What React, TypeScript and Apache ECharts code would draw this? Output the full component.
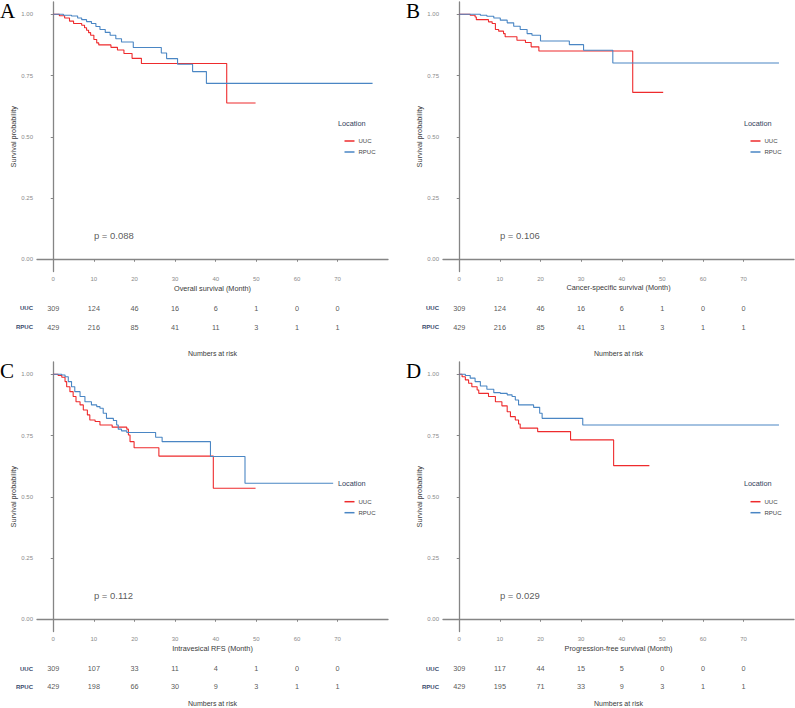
import React, { useEffect, useRef } from "react";
import * as echarts from "echarts";

// Kaplan–Meier curves: step times (months) and survival probability after each step
const xTicks = [0, 10, 20, 30, 40, 50, 60, 70];
const yTicks = [0, 0.25, 0.5, 0.75, 1];

// A – overall survival
const osUucTime = [0, 1.5, 2.8, 4.0, 5.0, 7.0, 7.7, 8.2, 8.7, 9.2, 10.0, 10.7, 11.2, 14.2, 15.8, 17.4, 19.4, 21.7, 42.7, 49.8];
const osUucSurv = [1, 0.994, 0.985, 0.972, 0.962, 0.955, 0.945, 0.935, 0.925, 0.914, 0.897, 0.883, 0.875, 0.865, 0.854, 0.84, 0.82, 0.799, 0.638, 0.638];
const osRpucTime = [0, 2.5, 4.5, 6.0, 7.0, 8.2, 9.4, 10.5, 11.5, 12.8, 14.0, 15.4, 16.8, 19.7, 26.6, 27.9, 30.6, 34.3, 37.7, 78.6];
const osRpucSurv = [1, 0.996, 0.993, 0.985, 0.978, 0.97, 0.962, 0.95, 0.938, 0.926, 0.914, 0.9, 0.887, 0.864, 0.842, 0.819, 0.796, 0.766, 0.718, 0.718];
const osRiskUuc = [309, 124, 46, 16, 6, 1, 0, 0];
const osRiskRpuc = [429, 216, 85, 41, 11, 3, 1, 1];

// B – cancer-specific survival
const cssUucTime = [0, 2.7, 3.9, 4.2, 7.2, 8.1, 8.9, 9.7, 10.9, 11.3, 14.2, 16.3, 17.7, 19.6, 42.7, 50.2];
const cssUucSurv = [1, 0.996, 0.989, 0.978, 0.969, 0.962, 0.938, 0.931, 0.921, 0.908, 0.894, 0.885, 0.867, 0.85, 0.681, 0.681];
const cssRpucTime = [0, 5.2, 6.8, 8.5, 10.1, 11.8, 13.4, 15.0, 16.7, 17.9, 20.0, 27.1, 30.6, 37.8, 78.7];
const cssRpucSurv = [1, 0.996, 0.992, 0.985, 0.976, 0.965, 0.951, 0.938, 0.921, 0.914, 0.891, 0.876, 0.853, 0.801, 0.801];
const cssRiskUuc = [309, 124, 46, 16, 6, 1, 0, 0];
const cssRiskRpuc = [429, 216, 85, 41, 11, 3, 1, 1];

// C – intravesical recurrence-free survival
const rfsUucTime = [0, 1.2, 2.1, 2.9, 3.3, 4.1, 4.9, 5.6, 6.6, 7.4, 8.4, 9.0, 10.3, 11.5, 14.5, 18.1, 18.5, 18.9, 19.9, 26.0, 39.4, 49.8];
const rfsUucSurv = [1, 0.995, 0.988, 0.97, 0.949, 0.929, 0.909, 0.888, 0.875, 0.854, 0.834, 0.813, 0.807, 0.793, 0.784, 0.776, 0.752, 0.725, 0.7, 0.666, 0.535, 0.535];
const rfsRpucTime = [0, 2.1, 2.9, 3.7, 4.5, 5.3, 6.6, 7.8, 9.4, 10.7, 11.5, 12.3, 13.1, 14.8, 15.6, 16.0, 16.8, 18.1, 25.2, 26.8, 38.7, 47.2, 68.9];
const rfsRpucSurv = [1, 0.997, 0.99, 0.97, 0.949, 0.929, 0.909, 0.888, 0.875, 0.868, 0.861, 0.841, 0.82, 0.811, 0.793, 0.776, 0.769, 0.762, 0.743, 0.725, 0.664, 0.555, 0.555];
const rfsRiskUuc = [309, 107, 33, 11, 4, 1, 0, 0];
const rfsRiskRpuc = [429, 198, 66, 30, 9, 3, 1, 1];

// D – progression-free survival
const pfsUucTime = [0, 0.7, 1.5, 2.3, 3.1, 4.4, 4.8, 7.2, 8.9, 10.5, 11.8, 12.6, 13.8, 14.6, 15.0, 19.3, 27.4, 38.0, 46.8];
const pfsUucSurv = [1, 0.99, 0.977, 0.963, 0.949, 0.936, 0.922, 0.909, 0.888, 0.871, 0.847, 0.827, 0.813, 0.797, 0.78, 0.766, 0.732, 0.627, 0.627];
const pfsRpucTime = [0, 1.5, 2.7, 3.9, 5.2, 6.8, 8.5, 10.1, 11.8, 13.0, 13.8, 14.6, 18.3, 19.8, 20.4, 30.4, 78.7];
const pfsRpucSurv = [1, 0.995, 0.984, 0.97, 0.952, 0.939, 0.925, 0.922, 0.916, 0.909, 0.895, 0.875, 0.865, 0.841, 0.82, 0.793, 0.793];
const pfsRiskUuc = [309, 117, 44, 15, 5, 0, 0, 0];
const pfsRiskRpuc = [429, 195, 71, 33, 9, 3, 1, 1];

const pValues = ["p = 0.088", "p = 0.106", "p = 0.112", "p = 0.029"];
const pValueAt = [10, 0.096];
const axisTitles = [
  "Overall survival (Month)",
  "Cancer-specific survival (Month)",
  "Intravesical RFS (Month)",
  "Progression-free survival (Month)",
];
const panelLetters = ["A", "B", "C", "D"];

const RED = "#EE2B2D";
const BLUE = "#4A86C4";
const AXIS = "#858585";
const FONT = "'Liberation Sans', Arial, sans-serif";

const curves = [
  [osUucTime, osUucSurv, osRpucTime, osRpucSurv, osRiskUuc, osRiskRpuc],
  [cssUucTime, cssUucSurv, cssRpucTime, cssRpucSurv, cssRiskUuc, cssRiskRpuc],
  [rfsUucTime, rfsUucSurv, rfsRpucTime, rfsRpucSurv, rfsRiskUuc, rfsRiskRpuc],
  [pfsUucTime, pfsUucSurv, pfsRpucTime, pfsRpucSurv, pfsRiskUuc, pfsRiskRpuc],
];

// layout of each panel (pixels)
const layout = [
  { left: 37, top: 2, riskTop: 298.8, riskH: 38, titleGap: 13.5, nrGap: 13, legendTop: 124 },
  { left: 443, top: 2, riskTop: 298.8, riskH: 38, titleGap: 12, nrGap: 13, legendTop: 124 },
  { left: 37, top: 362, riskTop: 659.6, riskH: 37.4, titleGap: 13, nrGap: 4.5, legendTop: 484.7 },
  { left: 443, top: 362, riskTop: 659.6, riskH: 37.4, titleGap: 13, nrGap: 4.5, legendTop: 484.7 },
];
const PLOT_W = 351;
const PLOT_H = 269.5;
const X_MIN = -4;
const X_MAX = 82.4;

const zip = (t: number[], s: number[]) => t.map((v, i) => [v, s[i]]);

function buildOption() {
  const grid: any[] = [];
  const xAxis: any[] = [];
  const yAxis: any[] = [];
  const series: any[] = [];
  const legend: any[] = [];
  const graphic: any[] = [];

  layout.forEach((L) => {
    grid.push({ left: L.left, top: L.top, width: PLOT_W, height: PLOT_H });
  });
  layout.forEach((L) => {
    grid.push({ left: L.left, top: L.riskTop, width: PLOT_W, height: L.riskH });
  });

  layout.forEach((L, i) => {
    xAxis.push({
      type: "value",
      gridIndex: i,
      min: X_MIN,
      max: X_MAX,
      splitLine: { show: false },
      axisLine: { lineStyle: { color: AXIS, width: 1.3 } },
      axisTick: { customValues: xTicks, length: 2.5, lineStyle: { color: AXIS } },
      axisLabel: { customValues: xTicks, fontSize: 6, color: "#8a8a8a", margin: 4, fontFamily: FONT },
      name: axisTitles[i],
      nameLocation: "middle",
      nameGap: L.titleGap,
      nameTextStyle: { fontSize: 7.3, color: "#3a3a3a", fontFamily: FONT },
    });
    yAxis.push({
      type: "value",
      gridIndex: i,
      min: -0.05,
      max: 1.05,
      splitLine: { show: false },
      axisLine: { show: true, lineStyle: { color: AXIS, width: 1.3 } },
      axisTick: { show: true, customValues: yTicks, length: 2.5, lineStyle: { color: AXIS } },
      axisLabel: {
        customValues: yTicks,
        fontSize: 6,
        color: "#8a8a8a",
        margin: 4,
        fontFamily: FONT,
        formatter: (v: number) => v.toFixed(2),
      },
      name: "Survival probability",
      nameLocation: "middle",
      nameRotate: 90,
      nameGap: 20.5,
      nameTextStyle: { fontSize: 7.3, color: "#3a3a3a", fontFamily: FONT },
    });
  });

  layout.forEach((L, i) => {
    xAxis.push({
      type: "value",
      gridIndex: 4 + i,
      min: X_MIN,
      max: X_MAX,
      axisLine: { show: false },
      axisTick: { show: false },
      axisLabel: { show: false },
      splitLine: { show: false },
      name: "Numbers at risk",
      nameLocation: "middle",
      nameGap: L.nrGap,
      nameTextStyle: { fontSize: 7, color: "#3a3a3a", fontFamily: FONT },
    });
    yAxis.push({
      type: "category",
      gridIndex: 4 + i,
      data: ["RPUC", "UUC"],
      axisLine: { show: false },
      axisTick: { show: false },
      splitLine: { show: false },
      axisLabel: { fontSize: 6, fontWeight: "bold", color: "#3a4a6c", margin: 4, fontFamily: FONT },
    });
  });

  curves.forEach((c, i) => {
    const [ut, us, rt, rs, riskU, riskR] = c;
    series.push({
      type: "line",
      name: "UUC",
      xAxisIndex: i,
      yAxisIndex: i,
      step: "end",
      symbol: "none",
      showSymbol: false,
      data: zip(ut, us),
      color: RED,
      lineStyle: { color: RED, width: 1.1 },
      itemStyle: { color: RED },
      z: 2,
    });
    series.push({
      type: "line",
      name: "RPUC",
      xAxisIndex: i,
      yAxisIndex: i,
      step: "end",
      symbol: "none",
      showSymbol: false,
      data: zip(rt, rs),
      color: BLUE,
      lineStyle: { color: BLUE, width: 1.1 },
      itemStyle: { color: BLUE },
      z: 3,
    });
    series.push({
      type: "scatter",
      name: "pvalue",
      xAxisIndex: i,
      yAxisIndex: i,
      symbolSize: 0,
      data: [pValueAt],
      label: {
        show: true,
        position: "right",
        distance: 0,
        formatter: () => pValues[i],
        fontSize: 9.5,
        color: "#2e2e2e",
        fontFamily: FONT,
      },
    });
    [riskR, riskU].forEach((row, r) => {
      series.push({
        type: "scatter",
        name: r === 0 ? "risk-RPUC" : "risk-UUC",
        xAxisIndex: 4 + i,
        yAxisIndex: 4 + i,
        symbolSize: 0,
        data: xTicks.map((t, j) => [t, r, row[j]]),
        label: {
          show: true,
          position: "inside",
          formatter: (p: any) => String(p.value[2]),
          fontSize: 7.3,
          color: "#2a2a2a",
          fontFamily: FONT,
        },
      });
    });

    const L = layout[i];
    const legendLeft = L.left + 301;
    legend.push({
      data: ["UUC", "RPUC"],
      orient: "vertical",
      left: legendLeft + 1.5,
      top: L.legendTop + 8,
      icon: "rect",
      itemWidth: 10,
      itemHeight: 1.5,
      itemGap: 3,
      selectedMode: false,
      textStyle: { fontSize: 6, lineHeight: 8, color: "#444", fontFamily: FONT, padding: [0, 0, 0, -1] },
    });
    graphic.push({
      type: "text",
      left: legendLeft,
      top: L.legendTop - 4.5,
      style: { text: "Location", fontSize: 7.3, fill: "#2f3d5a", fontFamily: FONT },
    });
    graphic.push({
      type: "text",
      left: L.left - 37,
      top: L.top - 2,
      style: {
        text: panelLetters[i],
        fontSize: 21,
        fill: "#000",
        fontFamily: "'Liberation Serif', 'Times New Roman', serif",
      },
    });
  });

  return {
    animation: false,
    backgroundColor: "#ffffff",
    textStyle: { fontFamily: FONT },
    grid,
    xAxis,
    yAxis,
    series,
    legend,
    graphic,
  };
}

export default function App() {
  const ref = useRef<HTMLDivElement>(null);
  useEffect(() => {
    if (!ref.current) return;
    const chart = echarts.init(ref.current, null, { renderer: "svg" });
    chart.setOption(buildOption());
    return () => chart.dispose();
  }, []);
  return (
    <div
      ref={ref}
      style={{ position: "fixed", left: 0, top: 0, width: 795, height: 708, background: "#fff" }}
    />
  );
}
